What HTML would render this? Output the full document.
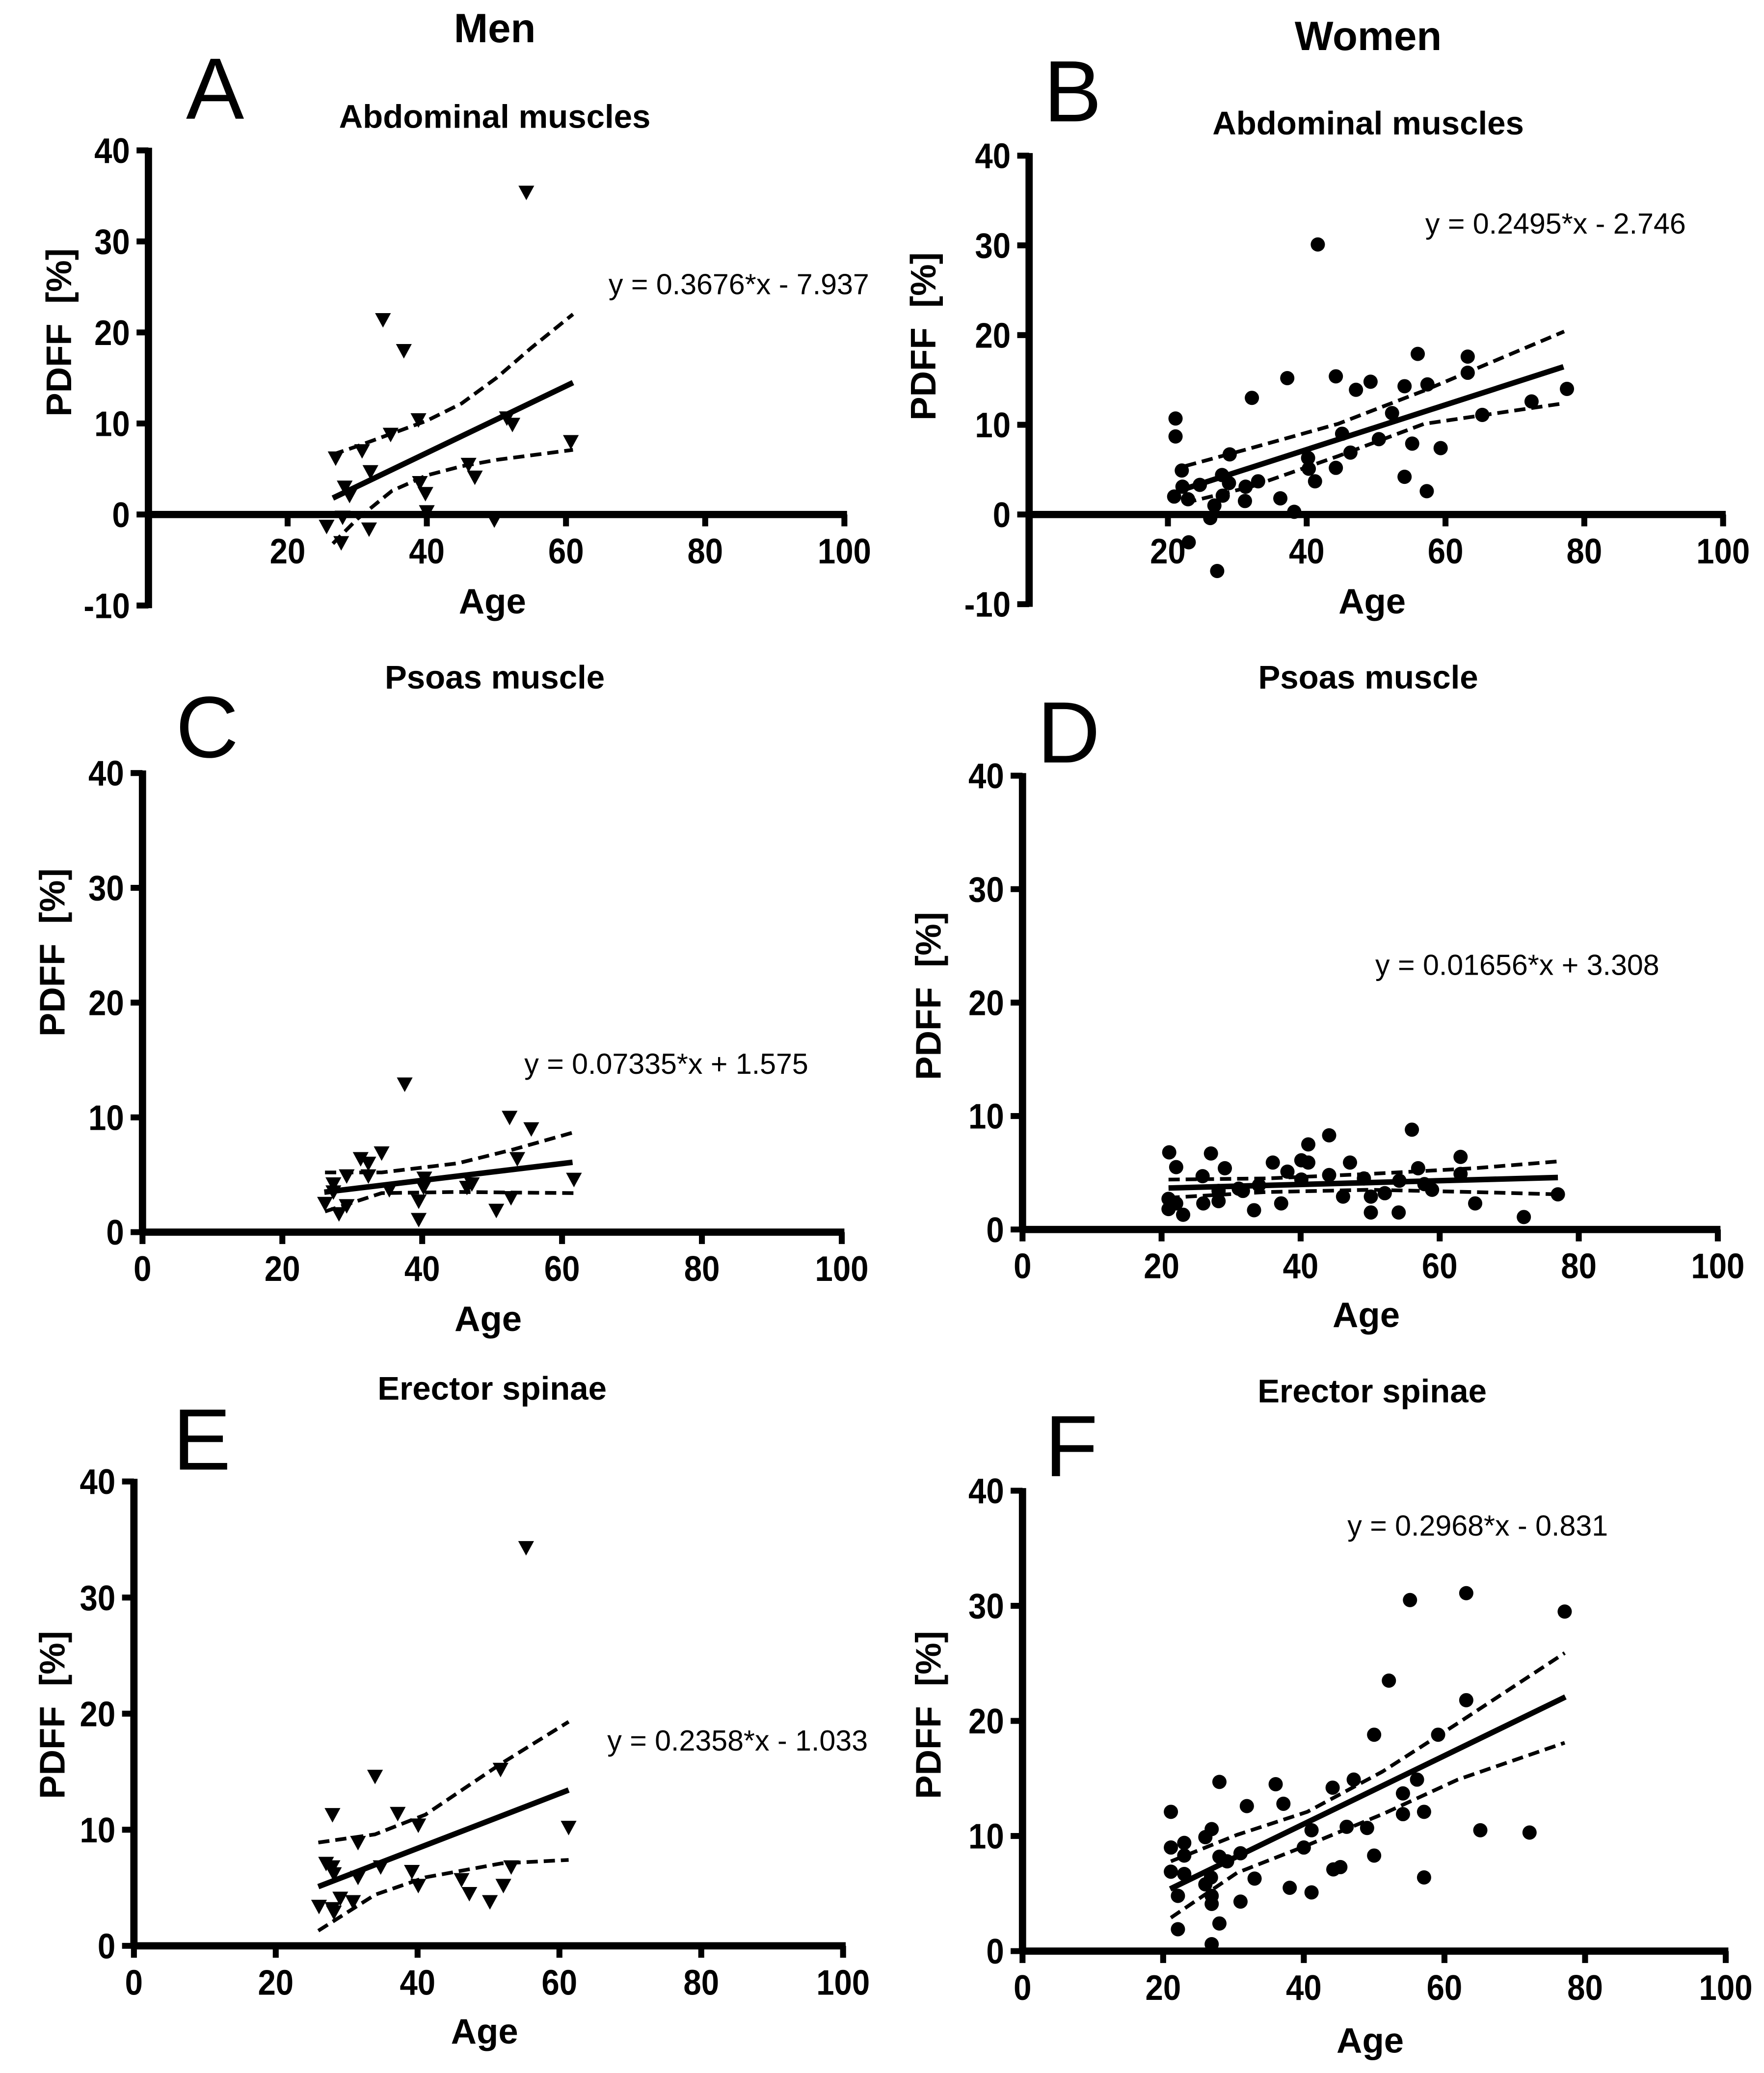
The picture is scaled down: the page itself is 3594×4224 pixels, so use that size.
<!DOCTYPE html>
<html><head><meta charset="utf-8"><style>
html,body{margin:0;padding:0;background:#fff;}
svg{display:block;}
text{font-family:"Liberation Sans",Arial,sans-serif;fill:#000;white-space:pre;}
</style></head><body>
<svg id="fig" width="3594" height="4224" viewBox="0 0 1337 1571.4" preserveAspectRatio="none" xmlns="http://www.w3.org/2000/svg">
<rect width="1337" height="1571.4" fill="#fff"/>
<text x="375" y="32" font-size="31" font-weight="bold" text-anchor="middle">Men</text>
<text x="1037" y="38" font-size="31" font-weight="bold" text-anchor="middle">Women</text>
</svg>
<script>
// ---- Panel A data (men, abdominal) ----
const ageA = [54.3,33.7,36.7,26.9,30.7,34.8,38.8,31.9,28.2,28.9,51.5,52.3,39,39.8,46,46.9,60.7,40,49.7,27.9,25.6,31.7,27.7];
const pdffA = [35.4,21.4,18.0,6.2,7.0,8.8,10.4,4.7,3.0,2.1,10.6,9.9,3.5,2.3,5.5,4.1,8.0,0.3,-0.6,-0.3,-1.3,-1.6,-3.1];
const ciXA = [26.5,30,35,40,45,50,55,61];
const ciUpA = [6.6,7.5,8.9,10.3,12.2,15,18.3,22];
const ciLoA = [-3.2,-0.5,2.6,4.3,5.3,6.0,6.5,7.1];
const fitA = [0.3676,-7.937];
// ---- Panel B data (women, abdominal) ----
const ageB = [41.6,21.1,21.1,22,20.9,22.1,22.9,23,27.1,28.9,32.1,37.2,36.2,38.2,31.1,31.2,33,27.8,27.9,26.7,26.1,24.6,40.2,40.3,41.2,44.2,44.2,46.3,47.1,49.2,45.1,50.4,52.3,54.1,54.1,55.2,56,57.3,57.4,59.3,63.2,63.2,65.3,72.4,77.5,28.8];
const pdffB = [30.1,10.7,8.7,4.9,2.0,3.1,1.7,-3.1,-6.3,6.7,13.0,15.2,1.8,0.3,1.5,3.1,3.7,4.4,2.1,1.0,-0.4,3.3,6.3,5.1,3.7,5.2,15.4,6.9,13.9,14.8,9.0,8.4,11.3,14.3,4.2,7.9,17.9,2.6,14.5,7.4,17.6,15.8,11.1,12.6,14.0,3.5];
const ciXB = [22.5,32,44.5,56.9,77.1];
const ciUpB = [5.4,7.4,10.1,13.8,20.4];
const ciLoB = [1.3,3.1,6.5,10.1,12.4];
const fitB = [0.2495,-2.746];
// ---- Panel C data (men, psoas) ----
const ageC = [37.5,52.5,55.6,34.2,31.2,32.3,32.3,29.2,27.3,27.3,26.1,28.1,29.2,35.3,40.3,40.2,39.5,39.5,47.1,46.4,53.6,52.7,50.6,61.7];
const pdffC = [12.9,10.0,9.0,6.9,6.4,6.0,4.9,4.9,4.2,3.5,2.5,1.6,2.3,3.7,4.7,3.9,2.7,1.1,4.2,3.9,6.4,3.0,1.9,4.6];
const ciXC = [26.1,34.2,45.1,53,61.7];
const ciUpC = [5.2,5.2,6.0,7.2,8.7];
const ciLoC = [1.8,3.4,3.5,3.45,3.4];
const fitC = [0.07335,1.575];
// ---- Panel D data (women, psoas) ----
const ageD = [21.1,22.1,21,21,22.1,23.1,25.9,26,27.1,28.2,29.1,28.2,31.1,31.7,33.3,36,37.2,38.1,40.1,41.1,41.1,40.1,44.1,44.1,46.1,47.1,49.1,50.1,50.1,52.1,54.1,54.2,56,56.9,58.9,63,63,65.1,72.1,77,57.8,34];
const pdffD = [6.8,5.5,2.7,1.8,2.3,1.3,4.7,2.3,6.7,2.5,5.4,3.4,3.6,3.4,1.7,5.9,2.3,5.1,6.1,5.9,7.5,4.4,8.3,4.8,2.9,5.9,4.5,2.9,1.5,3.2,1.5,4.3,8.8,5.4,3.5,6.4,4.9,2.3,1.1,3.1,4.0,3.9];
const ciXD = [21,35,50,65,77];
const ciUpD = [4.4,4.5,4.9,5.4,6.0];
const ciLoD = [2.8,3.3,3.5,3.3,3.1];
const fitD = [0.01656,3.308];
// ---- Panel E data (men, erector spinae) ----
const ageE = [55.3,34,28,37.2,31.6,40.1,61.3,51.7,28,27.1,28.2,31.6,34.8,39.2,40.1,46.2,47.3,50.2,52.1,53.2,26.1,28,29.1,30.9,28.2];
const pdffE = [34.3,14.6,11.3,11.4,8.9,10.4,10.2,15.2,6.8,7.1,6.2,5.9,6.8,6.4,5.2,5.7,4.5,3.8,5.2,6.8,3.4,3.2,4.1,3.8,2.9];
const ciXE = [26,34,41.1,51.8,61.3];
const ciUpE = [8.9,9.6,11.3,15.7,19.3];
const ciLoE = [1.3,4.4,5.9,7.1,7.4];
const fitE = [0.2358,-1.033];
// ---- Panel F data (women, erector spinae) ----
const ageF = [21.1,21.1,21.1,22.1,22.1,23,23,23,26,26.9,26,26.8,26.9,26.9,26.9,28,28,28,29.1,31,31,31.9,33,36,37.1,38,40,41.1,41.1,44.1,44.2,45.2,46.1,47.1,49,50,50,52.1,54.1,54.1,55.1,56.1,57.1,57.1,59.1,63.1,63.1,65.1,72.1,77.1];
const pdffF = [12.1,9.0,6.9,4.8,1.9,9.4,8.3,6.7,9.9,10.6,5.8,6.4,4.8,4.1,0.6,14.7,8.2,2.4,7.8,8.5,4.3,12.6,6.3,14.5,12.8,5.5,9.0,10.5,5.1,14.2,7.1,7.3,10.8,14.9,10.7,18.8,8.3,23.5,13.7,11.9,30.5,14.9,12.1,6.4,18.8,31.1,21.8,10.5,10.3,29.5];
const ciXF = [21.1,30.5,40.5,51.2,61.9,77.1];
const ciUpF = [7.8,10.1,12.1,15.6,19.8,25.9];
const ciLoF = [2.9,6.8,9.2,11.9,14.9,18.1];
const fitF = [0.2968,-0.831];
const yTicksAB = [-10,0,10,20,30,40];
const yTicks = [0,10,20,30,40];
const xTicksAB = [20,40,60,80,100];
const xTicks = [0,20,40,60,80,100];

const NS = "http://www.w3.org/2000/svg";
const svg = document.getElementById('fig');
function mk(tag, attrs, parent){
  const e = document.createElementNS(NS, tag);
  for (const k in attrs) e.setAttribute(k, attrs[k]);
  (parent||svg).appendChild(e);
  return e;
}
const panels = [
 {id:'a',letter:'A',title:'Abdominal muscles',x0:112.5,x100:640,y0:390,y40:114,ymin:-10,yt:yTicksAB,xt:xTicksAB,ages:ageA,vals:pdffA,ciX:ciXA,ciU:ciUpA,ciL:ciLoA,fit:fitA,marker:'tri',eq:'y = 0.3676*x - 7.937',eqx:560,eqy:223,lx:163,ly:90,tx:375,ty:97,agey:465,pdx:45,pdy:252,fitX:[26.5,61]},
 {id:'b',letter:'B',title:'Abdominal muscles',x0:780,x100:1306,y0:390,y40:118,ymin:-10,yt:yTicksAB,xt:xTicksAB,ages:ageB,vals:pdffB,ciX:ciXB,ciU:ciUpB,ciL:ciLoB,fit:fitB,marker:'dot',eq:'y = 0.2495*x - 2.746',eqx:1179,eqy:177,lx:813,ly:92,tx:1037,ty:102,agey:465,pdx:700,pdy:255,fitX:[22.5,77]},
 {id:'c',letter:'C',title:'Psoas muscle',x0:108,x100:638,y0:934,y40:586,ymin:0,yt:yTicks,xt:xTicks,ages:ageC,vals:pdffC,ciX:ciXC,ciU:ciUpC,ciL:ciLoC,fit:fitC,marker:'tri',eq:'y = 0.07335*x + 1.575',eqx:505,eqy:814,lx:157,ly:574,tx:375,ty:522,agey:1009,pdx:40,pdy:722,fitX:[26,61.5]},
 {id:'d',letter:'D',title:'Psoas muscle',x0:775,x100:1302,y0:932,y40:588,ymin:0,yt:yTicks,xt:xTicks,ages:ageD,vals:pdffD,ciX:ciXD,ciU:ciUpD,ciL:ciLoD,fit:fitD,marker:'dot',eq:'y = 0.01656*x + 3.308',eqx:1150,eqy:739,lx:810,ly:578,tx:1037,ty:522,agey:1006,pdx:704,pdy:755,fitX:[21,77]},
 {id:'e',letter:'E',title:'Erector spinae',x0:101.5,x100:639,y0:1475,y40:1123,ymin:0,yt:yTicks,xt:xTicks,ages:ageE,vals:pdffE,ciX:ciXE,ciU:ciUpE,ciL:ciLoE,fit:fitE,marker:'tri',eq:'y = 0.2358*x - 1.033',eqx:559,eqy:1327,lx:153,ly:1114,tx:373,ty:1061,agey:1549,pdx:40,pdy:1300,fitX:[26,61.3]},
 {id:'f',letter:'F',title:'Erector spinae',x0:775,x100:1308,y0:1479,y40:1130,ymin:0,yt:yTicks,xt:xTicks,ages:ageF,vals:pdffF,ciX:ciXF,ciU:ciUpF,ciL:ciLoF,fit:fitF,marker:'dot',eq:'y = 0.2968*x - 0.831',eqx:1120,eqy:1164,lx:812,ly:1119,tx:1040,ty:1063,agey:1556,pdx:704,pdy:1300,fitX:[21,77.2]}
];
panels.forEach(p=>{
  const g = mk('g',{});
  
  
  const X = v => p.x0 + (p.x100-p.x0)*v/100;
  const Y = v => p.y0 - (p.y0-p.y40)*v/40;
  const lt = mk('text',{x:p.lx,y:p.ly,'font-size':66,'text-anchor':'middle'},g);
  lt.textContent = p.letter;
  
  
  const tt = mk('text',{x:p.tx,y:p.ty,'font-size':25,'font-weight':'bold','text-anchor':'middle'},g);
  tt.textContent = p.title;
  
  
  const ya = mk('line',{x1:p.x0,x2:p.x0,y1:Y(40)-2,y2:Y(p.ymin)+2,stroke:'#000','stroke-width':5.5},g);
  
  
  const xa = mk('line',{x1:p.x0,x2:X(100)+2,y1:p.y0,y2:p.y0,stroke:'#000','stroke-width':5.5},g);
  
  
  p.yt.forEach(t=>{
    mk('line',{x1:p.x0-9,x2:p.x0,y1:Y(t),y2:Y(t),stroke:'#000','stroke-width':4.5},g);
    const tl = mk('text',{x:p.x0-14,y:Y(t)+9.5,'font-size':27,'font-weight':'bold','text-anchor':'end',transform:'translate('+(p.x0-14)+',0) scale(0.9,1) translate('+(-(p.x0-14))+',0)'},g);
    tl.textContent = String(t);
    
    
  });
  p.xt.forEach(t=>{
    mk('line',{x1:X(t),x2:X(t),y1:p.y0,y2:p.y0+9,stroke:'#000','stroke-width':4.5},g);
    const tl = mk('text',{x:X(t),y:p.y0+37,'font-size':27,'font-weight':'bold','text-anchor':'middle',transform:'translate('+X(t)+',0) scale(0.9,1) translate('+(-X(t))+',0)'},g);
    tl.textContent = String(t);
    
    
  });
  const al = mk('text',{x:(p.x0+p.x100)/2-3,y:p.agey,'font-size':27,'font-weight':'bold','text-anchor':'middle'},g);
  al.textContent = 'Age';
  
  
  const pl = mk('text',{x:0,y:0,'font-size':27,'font-weight':'bold','text-anchor':'middle',transform:'translate('+(p.pdx+9)+','+p.pdy+') rotate(-90)'},g);
  pl.textContent = 'PDFF\u00a0\u00a0[%]';
  
  
  const eq = mk('text',{x:p.eqx,y:p.eqy,'font-size':22,'text-anchor':'middle'},g);
  eq.textContent = p.eq;
  
  
  p.ages.forEach((a,i)=>{
    const cx = X(a), cy = Y(p.vals[i]);
    let m;
    if (p.marker==='tri'){
      m = mk('polygon',{points:(cx-6)+','+(cy-5)+' '+(cx+6)+','+(cy-5)+' '+cx+','+(cy+6),fill:'#000'},g);
    } else {
      m = mk('circle',{cx:cx,cy:cy,r:5.4,fill:'#000'},g);
    }
    
    
  });
  [p.ciU,p.ciL].forEach((arr,k)=>{
    const pts = p.ciX.map((x,i)=>X(x)+','+Y(arr[i])).join(' ');
    const c = mk('polyline',{points:pts,fill:'none',stroke:'#000','stroke-width':2.8,'stroke-dasharray':'8.5,4.5','stroke-linejoin':'round'},g);
    
    
  });
  const f = p.fit;
  const fl = mk('line',{x1:X(p.fitX[0]),y1:Y(f[0]*p.fitX[0]+f[1]),x2:X(p.fitX[1]),y2:Y(f[0]*p.fitX[1]+f[1]),stroke:'#000','stroke-width':4.2},g);
  
  
});
</script>
</body></html>
